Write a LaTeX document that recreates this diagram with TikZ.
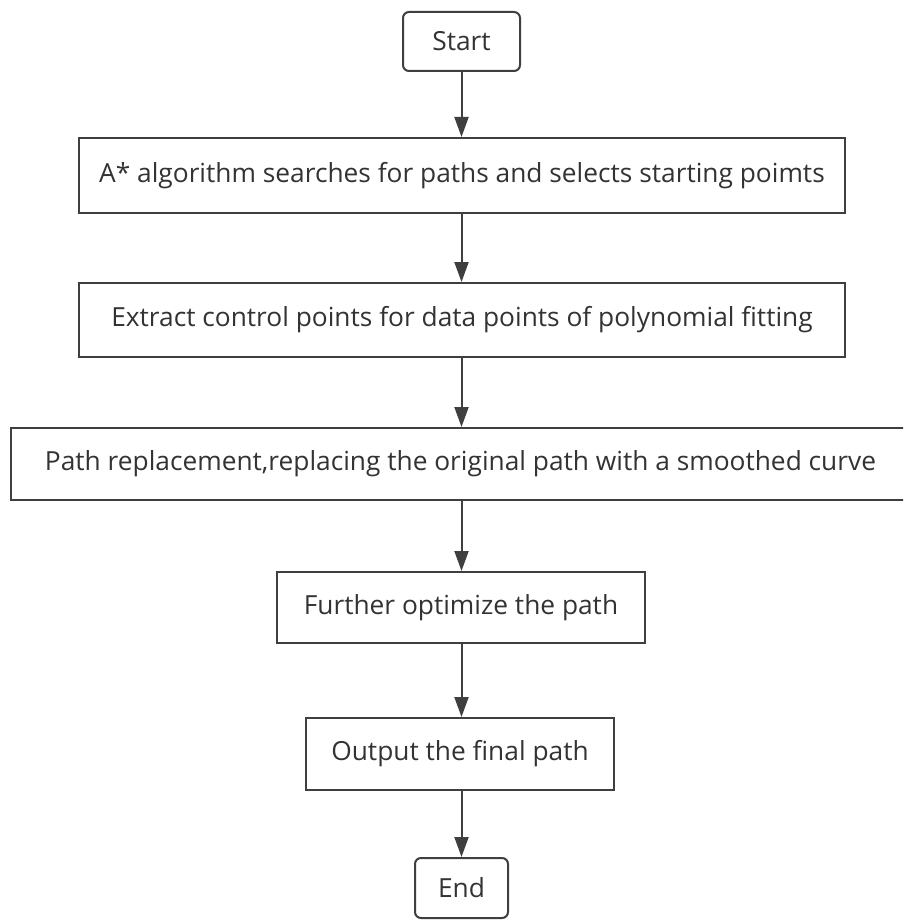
\documentclass[tikz,border=0pt]{standalone}
\usepackage{fontspec}
\setmainfont{Open Sans}
\usetikzlibrary{arrows.meta}
\definecolor{linec}{HTML}{3F3F3F}
\definecolor{textc}{HTML}{333333}
\tikzset{
  box/.style={draw=linec, line width=2pt, fill=white, inner sep=0pt, text=textc, font=\fontsize{26.3}{30}\selectfont},
  term/.style={box, rounded corners=6pt},
  flow/.style={draw=linec, line width=2pt, -{Triangle[width=14pt,length=20pt]}}
}
\begin{document}
\begin{tikzpicture}[x=1pt,y=-1pt]
\useasboundingbox (0,0) rectangle (903,920);
\fill[white] (0,0) rectangle (903,920);
\begin{scope}
\clip (0,0) rectangle (903,920);
\node[term, minimum width=117pt, minimum height=59pt] (start) at (461.5,41.5) {Start};
\node[box, minimum width=766pt, minimum height=75pt] (b1) at (462,175.5) {A* algorithm searches for paths and selects starting poimts};
\node[box, minimum width=766pt, minimum height=74pt] (b2) at (462,320) {Extract control points for data points of polynomial fitting};
\node[box, minimum width=899pt, minimum height=72pt] (b3) at (460.5,464) {Path replacement,replacing the original path with a smoothed curve};
\node[box, minimum width=368pt, minimum height=71pt] (b4) at (461,607.5) {Further optimize the path};
\node[box, minimum width=308pt, minimum height=72pt] (b5) at (460,754) {Output the final path};
\node[term, minimum width=93pt, minimum height=60pt] (end) at (461.5,888) {End};
\draw[flow] (start.south) -- (start.south |- b1.north);
\draw[flow] (start.south |- b1.south) -- (start.south |- b2.north);
\draw[flow] (start.south |- b2.south) -- (start.south |- b3.north);
\draw[flow] (start.south |- b3.south) -- (start.south |- b4.north);
\draw[flow] (start.south |- b4.south) -- (start.south |- b5.north);
\draw[flow] (start.south |- b5.south) -- (end.north);
\end{scope}
\end{tikzpicture}
\end{document}
